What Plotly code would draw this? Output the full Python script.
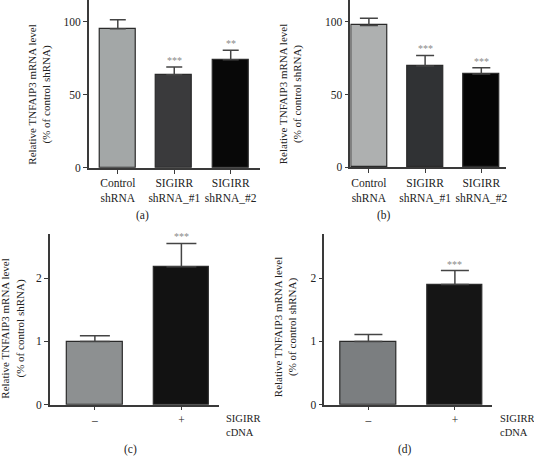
import plotly.graph_objects as go

W, H = 534, 463

# ---------------- data ----------------
cats_ab = ["Control<br>shRNA", "SIGIRR<br>shRNA_#1", "SIGIRR<br>shRNA_#2"]
vals_a = [95.3, 63.7, 74.1]
err_a = [6.1, 5.3, 6.5]
stars_a = ["", "***", "**"]
colors_a = ["#a3a7a7", "#3a3a3c", "#080808"]

vals_b = [97.5, 69.6, 64.1]
err_b = [5.0, 7.3, 4.4]
stars_b = ["", "***", "***"]
colors_b = ["#aeb0b0", "#303234", "#050505"]

cats_cd = ["–", "+"]
vals_c = [1.0, 2.18]
err_c = [0.09, 0.37]
stars_c = ["", "***"]
colors_c = ["#8d9091", "#121212"]

vals_d = [1.0, 1.90]
err_d = [0.11, 0.22]
stars_d = ["", "***"]
colors_d = ["#7b7e80", "#151515"]

ytitle = "Relative TNFAIP3 mRNA level<br>(% of control shRNA)"
FONT = "Liberation Serif"
TXT = "#222222"


def px(x):
    return x / W


def py(y):
    return 1 - y / H


fig = go.Figure()

panels = [
    # name, cats, vals, errs, stars, colors, xdom(px), ydom(px top,bottom), xrange, yrange, yticks, capw
    ("", cats_ab, vals_a, err_a, stars_a, colors_a, (89, 260), (0, 170), [-0.513, 2.51], [0, 115], [0, 50, 100], 8),
    ("2", cats_ab, vals_b, err_b, stars_b, colors_b, (351, 507), (0, 169.5), [-0.33, 2.44], [0, 115], [0, 50, 100], 9),
    ("3", cats_cd, vals_c, err_c, stars_c, colors_c, (50, 219), (237, 410), [-0.52, 1.43], [0, 2.7], [0, 1, 2], 15),
    ("4", cats_cd, vals_d, err_d, stars_d, colors_d, (325, 493), (237, 410), [-0.509, 1.43], [0, 2.7], [0, 1, 2], 14),
]

annotations = []
for name, cats, vals, errs, stars, cols, xd, yd, xr, yr, yt, capw in panels:
    xa = "x" + name
    ya = "y" + name
    xs = list(range(len(cats)))
    fig.add_trace(go.Bar(
        x=xs, y=vals, width=0.64,
        marker=dict(color=cols, line=dict(color="#2a2a2a", width=1.2)),
        error_y=dict(type="data", array=errs, arrayminus=[0] * len(errs), symmetric=False,
                     color="#444444", thickness=1.5, width=capw),
        xaxis=xa, yaxis=ya, showlegend=False, hoverinfo="skip",
    ))
    common = dict(showgrid=False, zeroline=False, showline=True, linecolor="#3a3a3a", linewidth=1.5,
                  ticks="outside", ticklen=4, tickwidth=1.2, tickcolor="#3a3a3a",
                  tickfont=dict(family=FONT, size=11.5, color=TXT))
    fig.update_layout(**{
        ("xaxis" + name): dict(domain=[px(xd[0]), px(xd[1])], range=xr, anchor=ya,
                               tickmode="array", tickvals=xs, ticktext=cats, **common),
        ("yaxis" + name): dict(domain=[py(yd[1]), py(yd[0])], range=yr, anchor=xa,
                               tickmode="array", tickvals=yt, **common),
    })
    for i, s in enumerate(stars):
        if s:
            annotations.append(dict(x=xs[i], y=vals[i] + errs[i], xref=xa, yref=ya, text=s,
                                    showarrow=False, yanchor="bottom", yshift=-1,
                                    font=dict(family=FONT, size=10, color="#8a8a8a")))

# y-axis titles
for cx, cy in [(40, 96), (291, 95), (13, 333), (286, 331)]:
    annotations.append(dict(x=px(cx), y=py(cy), xref="paper", yref="paper", text=ytitle,
                            textangle=-90, showarrow=False, xanchor="center", yanchor="middle",
                            font=dict(family=FONT, size=11, color=TXT)))

# SIGIRR cDNA labels
for lx in [224, 499]:
    annotations.append(dict(x=px(lx), y=py(431), xref="paper", yref="paper",
                            text="SIGIRR<br>cDNA", showarrow=False, xanchor="left", yanchor="middle",
                            align="left", font=dict(family=FONT, size=10.5, color=TXT)))

# panel letters
for t, lx, ly in [("(a)", 143, 218), ("(b)", 385, 218), ("(c)", 131, 455), ("(d)", 406, 455)]:
    annotations.append(dict(x=px(lx), y=py(ly), xref="paper", yref="paper", text=t,
                            showarrow=False, xanchor="center", yanchor="middle",
                            font=dict(family=FONT, size=11.5, color=TXT)))

fig.update_layout(width=W, height=H, margin=dict(l=0, r=0, t=0, b=0),
                  paper_bgcolor="white", plot_bgcolor="white", bargap=0,
                  annotations=annotations)

fig.write_html("out.html", config={"displayModeBar": False},
               post_script="document.body.style.margin='0';document.body.style.overflow='hidden';")
